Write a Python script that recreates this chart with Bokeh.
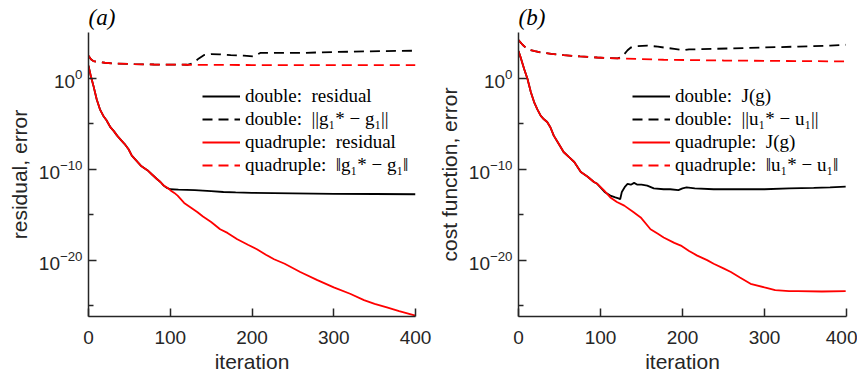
from bokeh.plotting import figure
from bokeh.models import (FixedTicker, LogTickFormatter, Legend, LegendItem, Range1d)
from bokeh.layouts import row
from bokeh.embed import file_html
from bokeh.resources import INLINE
import numpy as np

# ---------------- data (values as log10 exponents) ----------------
# Panel (a)
a_res_quad_x = [0, 3, 6, 10, 14, 18, 22, 27, 31, 35, 39, 44, 49, 53, 58, 64, 72, 78, 84, 88, 92, 96,
                100, 105, 109, 117, 125, 133, 140, 150, 161, 170, 182, 195, 206, 217, 227, 240, 259,
                280, 300, 320, 337, 350, 365, 380, 400]
a_res_quad_y = [1.4, 0.2, -0.8, -2.3, -3.4, -4.1, -4.6, -5.4, -5.8, -6.3, -6.7, -7.2, -7.8, -8.5, -9.0,
                -9.6, -10.1, -10.6, -11.1, -11.4, -11.8, -12.0, -12.3, -12.6, -12.9, -13.7, -14.2,
                -14.7, -15.2, -15.8, -16.6, -17.0, -17.7, -18.3, -18.8, -19.4, -19.9, -20.4, -21.3,
                -22.2, -23.0, -23.7, -24.4, -24.8, -25.2, -25.6, -26.1]
a_res_dbl_x = [0, 3, 6, 10, 14, 18, 22, 27, 31, 35, 39, 44, 49, 53, 58, 64, 72, 78, 84, 88, 92, 96,
               100, 110, 130, 150, 165, 180, 200, 250, 300, 350, 400]
a_res_dbl_y = [1.4, 0.2, -0.8, -2.3, -3.4, -4.1, -4.6, -5.4, -5.8, -6.3, -6.7, -7.2, -7.8, -8.5, -9.0,
               -9.6, -10.1, -10.6, -11.1, -11.4, -11.8, -12.05, -12.2, -12.25, -12.3, -12.4, -12.5,
               -12.55, -12.6, -12.65, -12.7, -12.72, -12.75]
a_err_quad_x = [0, 3, 6, 10, 20, 35, 56, 80, 120, 200, 300, 400]
a_err_quad_y = [2.5, 2.1, 1.9, 1.83, 1.72, 1.62, 1.57, 1.53, 1.5, 1.47, 1.46, 1.45]
a_err_dbl_x = [0, 3, 6, 10, 20, 35, 56, 80, 121, 125, 129, 135, 141, 150, 160, 174, 190, 202, 206,
               210, 259, 300, 340, 400]
a_err_dbl_y = [2.5, 2.1, 1.9, 1.83, 1.72, 1.62, 1.57, 1.53, 1.5, 1.6, 1.76, 2.2, 2.56, 2.67, 2.65,
               2.56, 2.5, 2.42, 2.6, 2.8, 2.8, 2.9, 2.97, 3.05]

# Panel (b)
b_cost_quad_x = [0, 3, 7, 11, 15, 19, 23, 27, 31, 35, 39, 43, 49, 55, 62, 68, 76, 84, 92, 96, 104,
                 112, 120, 129, 140, 149, 161, 170, 177, 190, 198, 208, 218, 230, 238, 250, 259, 270,
                 283, 300, 313, 330, 341, 370, 399]
b_cost_quad_y = [3.0, 2.2, 1.0, -0.07, -1.5, -2.6, -3.4, -4.1, -4.5, -4.8, -5.4, -6.3, -7.2, -8.1,
                 -8.7, -9.2, -10.3, -10.8, -11.4, -11.6, -12.3, -13.1, -13.6, -14.0, -14.7, -15.3,
                 -16.6, -17.1, -17.5, -18.1, -18.4, -19.0, -19.5, -20.0, -20.4, -20.9, -21.3, -21.9,
                 -22.6, -23.0, -23.3, -23.4, -23.4, -23.45, -23.4]
b_cost_dbl_x = [0, 3, 7, 11, 15, 19, 23, 27, 31, 35, 39, 43, 49, 55, 62, 68, 76, 84, 92, 96, 100,
                105, 112, 118, 122, 124, 126, 130, 133, 137, 141, 145, 150, 157, 165, 177, 185, 195,
                200, 205, 215, 238, 260, 280, 300, 330, 360, 380, 399]
b_cost_dbl_y = [3.0, 2.2, 1.0, -0.07, -1.5, -2.6, -3.4, -4.1, -4.5, -4.8, -5.4, -6.3, -7.2, -8.1,
                -8.7, -9.2, -10.3, -10.8, -11.4, -11.6, -12.0, -12.5, -12.9, -13.1, -13.2, -13.3,
                -12.5, -11.9, -11.6, -11.7, -11.5, -11.7, -11.7, -11.8, -12.1, -12.2, -12.2, -12.3,
                -12.1, -12.0, -12.1, -12.2, -12.2, -12.2, -12.2, -12.1, -12.05, -12.0, -11.9]
b_err_quad_x = [0, 5, 11, 20, 27, 40, 55, 75, 96, 121, 150, 177, 250, 320, 399]
b_err_quad_y = [4.2, 3.7, 3.2, 3.0, 2.86, 2.7, 2.56, 2.42, 2.3, 2.2, 2.12, 2.05, 1.97, 1.92, 1.87]
b_err_dbl_x = [0, 5, 11, 20, 27, 40, 55, 75, 96, 121, 125, 129, 133, 137, 145, 157, 170, 177, 190,
               202, 208, 214, 259, 300, 341, 380, 399]
b_err_dbl_y = [4.2, 3.7, 3.2, 3.0, 2.86, 2.7, 2.56, 2.42, 2.3, 2.2, 2.35, 2.67, 3.1, 3.4, 3.55,
               3.6, 3.5, 3.4, 3.25, 3.1, 3.2, 3.2, 3.3, 3.4, 3.5, 3.6, 3.7]

x_ticks = [0, 100, 200, 300, 400]
y_major = [1e-20, 1e-10, 1e0]
y_minor = [1e-25, 1e-15, 1e-5]

a_labels = ["double:  residual", "double:  ||g\u2081* \u2212 g\u2081||",
            "quadruple:  residual", "quadruple:  \u2016g\u2081* \u2212 g\u2081\u2016"]
b_labels = ["double:  J(g)", "double:  ||u\u2081* \u2212 u\u2081||",
            "quadruple:  J(g)", "quadruple:  \u2016u\u2081* \u2212 u\u2081\u2016"]

AX = "#262626"


def panel(tag, ylabel, series, labels, left, fw, right):
    p = figure(x_range=(0, 400), y_range=Range1d(10 ** -26.2, 10 ** 5.05), y_axis_type="log",
               frame_width=fw, frame_height=284, output_backend="svg", toolbar_location=None,
               min_border_left=left, min_border_right=right, min_border_top=30,
               min_border_bottom=56, title=tag)
    p.title.text_font = "Liberation Serif"
    p.title.text_font_style = "italic"
    p.title.text_font_size = "23px"
    p.title.text_color = "black"
    p.title.align = "left"
    p.title.standoff = 5
    p.title.offset = 0
    p.grid.visible = False
    p.outline_line_color = None
    p.background_fill_color = "white"

    rends = []
    for xs, ys, color, dash in series:
        r = p.line(xs, list(np.power(10.0, np.array(ys))), line_color=color, line_width=1.8,
                   line_dash=dash)
        rends.append(r)

    for ax in (p.xaxis[0], p.yaxis[0]):
        ax.axis_line_color = AX
        ax.axis_line_width = 1.5
        ax.major_tick_line_color = AX
        ax.minor_tick_line_color = AX
        ax.major_tick_line_width = 1.5
        ax.minor_tick_line_width = 1.5
        ax.major_tick_out = 0
        ax.major_tick_in = 8
        ax.minor_tick_out = 0
        ax.minor_tick_in = 5
        ax.major_label_text_font = "Liberation Sans"
        ax.major_label_text_font_size = "19px"
        ax.major_label_text_color = AX
        ax.axis_label_text_font = "Liberation Sans"
        ax.axis_label_text_font_size = "21px"
        ax.axis_label_text_font_style = "normal"
        ax.axis_label_text_color = AX

    p.xaxis.ticker = FixedTicker(ticks=x_ticks)
    p.xaxis.minor_tick_in = 0
    p.xaxis.axis_label = "iteration"
    p.xaxis.major_label_standoff = 14
    p.xaxis.axis_label_standoff = 3

    p.yaxis.ticker = FixedTicker(ticks=y_major, minor_ticks=y_minor)
    p.yaxis.formatter = LogTickFormatter()
    p.yaxis.axis_label = ylabel
    p.yaxis.major_label_standoff = 6
    p.yaxis.axis_label_standoff = 5

    # legend order: double solid, double dashed, quad solid, quad dashed
    items = [LegendItem(label=lab, renderers=[r]) for lab, r in zip(labels, rends)]
    leg = Legend(items=items, location=(114, 140), padding=0, margin=0, spacing=1,
                 glyph_width=38, glyph_height=20, label_height=20, label_standoff=5,
                 label_text_font="Liberation Serif", label_text_font_size="19px",
                 label_text_color="black", border_line_color=None, background_fill_alpha=0)
    p.add_layout(leg)
    return p


DASH = "10 6"
pa = panel("(a)", "residual, error",
           [(a_res_dbl_x, a_res_dbl_y, "black", "solid"),
            (a_err_dbl_x, a_err_dbl_y, "black", DASH),
            (a_res_quad_x, a_res_quad_y, "#ff0000", "solid"),
            (a_err_quad_x, a_err_quad_y, "#ff0000", DASH)],
           a_labels, 88, 327, 18)
pb = panel("(b)", "cost function, error",
           [(b_cost_dbl_x, b_cost_dbl_y, "black", "solid"),
            (b_err_dbl_x, b_err_dbl_y, "black", DASH),
            (b_cost_quad_x, b_cost_quad_y, "#ff0000", "solid"),
            (b_err_quad_x, b_err_quad_y, "#ff0000", DASH)],
           b_labels, 85, 328, 11)

layout = row(pa, pb)
open("out.html", "w").write(file_html(layout, INLINE))
